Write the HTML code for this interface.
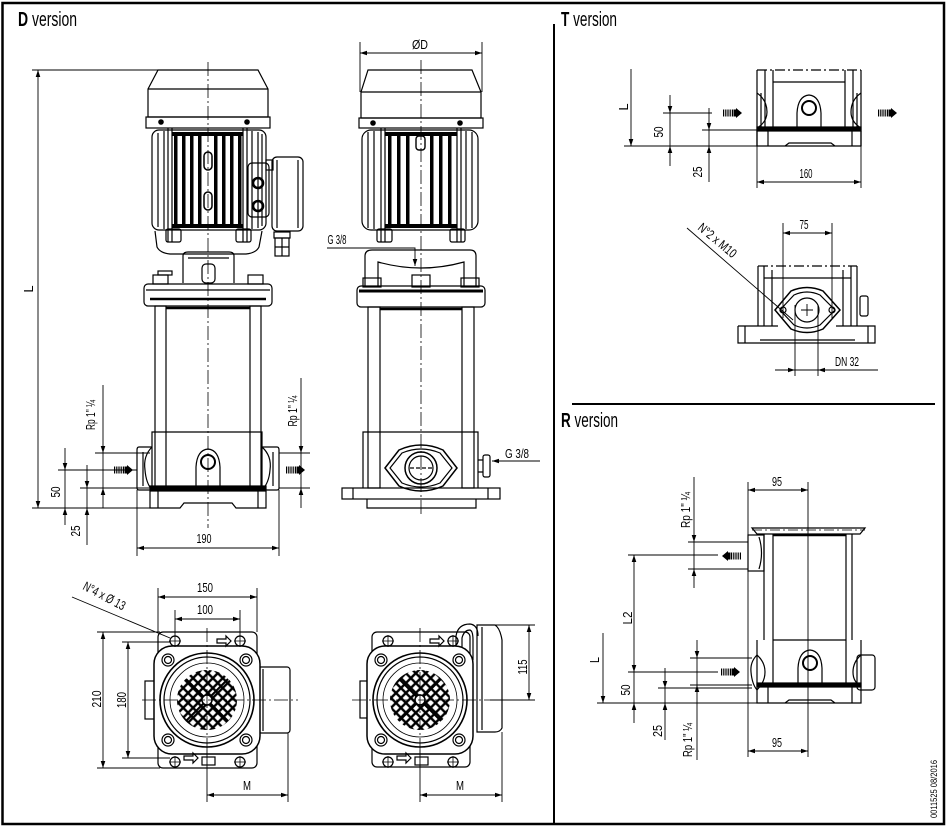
<!DOCTYPE html>
<html><head><meta charset="utf-8"><style>
html,body{margin:0;padding:0;background:#fff;}
svg{display:block}
text{font-family:"Liberation Sans","DejaVu Sans",sans-serif;fill:#000;stroke:none}
.d{font-size:13px}
.h{font-size:20px}
</style></head><body>
<svg width="947" height="827" viewBox="0 0 947 827" xmlns="http://www.w3.org/2000/svg">
<defs>
<path id="ar" d="M0,0L-7,-2.3L-7,2.3Z" fill="#000" stroke="none"/>
<g id="fa" fill="#000" stroke="none">
<rect x="0" y="-3.5" width="1.2" height="7"/><rect x="2.2" y="-3.5" width="1.2" height="7"/><rect x="4.4" y="-3.5" width="1.2" height="7"/><rect x="6.6" y="-3.5" width="1.2" height="7"/><rect x="8.8" y="-3.5" width="1.2" height="7"/>
<rect x="10.5" y="-3.5" width="2.6" height="7"/><path d="M13,-5L19,0L13,5Z"/>
</g>
<pattern id="grid" width="7" height="7" patternUnits="userSpaceOnUse" patternTransform="rotate(45)">
<rect width="7" height="7" fill="#000"/><rect x="1.2" y="1.2" width="4.6" height="4.6" fill="#fff"/>
</pattern>
</defs>

<!-- frame -->
<g fill="none" stroke="#000">
<rect x="2.5" y="3" width="941.5" height="821" stroke-width="2.5"/>
<line x1="554" y1="24" x2="554" y2="824" stroke-width="2"/>
<line x1="572" y1="404" x2="935" y2="404" stroke-width="2"/>
</g>
<text class="h" x="18" y="26" textLength="59" lengthAdjust="spacingAndGlyphs"><tspan font-weight="bold">D</tspan> version</text>
<text class="h" x="561" y="26" textLength="56" lengthAdjust="spacingAndGlyphs"><tspan font-weight="bold">T</tspan> version</text>
<text class="h" x="561" y="427" textLength="57" lengthAdjust="spacingAndGlyphs"><tspan font-weight="bold">R</tspan> version</text>

<!-- ================= D FRONT VIEW ================= -->
<g fill="none" stroke="#000" stroke-width="1.2">
<path d="M158,70H258L268,89V117H148V89Z"/>
<line x1="148" y1="89" x2="268" y2="89"/>
<rect x="146" y="117" width="124" height="11"/>
<circle cx="161" cy="122" r="2.2" fill="#000"/><circle cx="247" cy="122" r="2.2" fill="#000"/>
<rect x="152" y="130" width="114" height="100" rx="7"/>
<path d="M158,133V227M164,131V229M252,131V229M258,132V228M262,134V226"/>
<path d="M168,128V242M172,128V242M243,128V242M247,128V242"/>
<g fill="#000" stroke="none">
<rect x="172" y="132" width="71" height="4"/><rect x="172" y="224" width="71" height="4"/>
<rect x="174" y="134" width="3.5" height="92"/><rect x="182" y="134" width="3.5" height="92"/>
<rect x="190" y="134" width="3.5" height="92"/><rect x="198" y="134" width="3.5" height="92"/>
<rect x="214" y="134" width="3.5" height="92"/><rect x="222" y="134" width="3.5" height="92"/>
<rect x="230" y="134" width="3.5" height="92"/><rect x="238" y="134" width="3.5" height="92"/>
</g>
<rect x="204" y="152" width="8" height="18" rx="4" stroke-width="1.5"/>
<rect x="204" y="192" width="8" height="18" rx="4" stroke-width="1.5"/>
<rect x="248" y="163" width="21" height="54" rx="4"/>
<circle cx="258" cy="183" r="5" stroke-width="2.6"/><circle cx="258" cy="206" r="5" stroke-width="2.6"/>
<rect x="266" y="160" width="7" height="10"/>
<rect x="272" y="157" width="31" height="74" rx="5"/>
<path d="M277,160V228M298,160V228"/>
<rect x="274" y="232" width="16" height="6"/><rect x="275" y="238" width="14" height="18"/>
<path d="M282,238V256M275,247H289"/>
<rect x="166" y="229" width="15" height="13" rx="2"/><rect x="236" y="229" width="15" height="13" rx="2"/>
<path d="M155,231L157,247Q160,253 170,254H246Q256,253 259,247L262,231"/>
<path d="M183,283V256Q183,252 188,252H229Q234,252 234,256V283M188,258H229"/>
<rect x="202" y="264" width="13" height="19" rx="4"/>
<rect x="153" y="275" width="15" height="9"/><rect x="248" y="275" width="15" height="9"/>
<rect x="158" y="271" width="14" height="4"/>
<rect x="144" y="284" width="128" height="22" rx="4"/>
<line x1="146" y1="290" x2="270" y2="290"/>
<line x1="150" y1="299" x2="266" y2="299" stroke-width="2.5"/>
<rect x="155" y="306" width="11" height="183"/><rect x="250" y="306" width="11" height="183"/>
<line x1="166" y1="308" x2="250" y2="308" stroke-width="2.5"/>
<path d="M152,490V432H166M250,432H262V490"/>
<line x1="166" y1="432" x2="250" y2="432"/>
<path d="M152,447H139Q137,447 137,450V488Q137,490 139,490H152"/>
<path d="M152,447Q143,456 145,470Q146,483 152,490M143,452V486"/>
<path d="M262,447H277Q279,447 279,450V488Q279,490 277,490H262"/>
<path d="M262,447Q272,456 270,470Q269,483 262,490M273,452V486"/>
<rect x="150" y="486" width="116" height="5" fill="#000"/>
<path d="M150,491V508H180L184,503H232L236,508H266V491"/>
<path d="M158,491V508M258,491V508"/>
<circle cx="208" cy="462" r="7" stroke-width="2"/>
<path d="M196,487V467Q197,450 208,449Q219,450 220,467V487"/>
</g>
<line x1="208" y1="62" x2="208" y2="528" stroke="#000" stroke-width="0.8" stroke-dasharray="14,3,2,3"/>
<g transform="translate(114,470)"><use href="#fa"/></g>
<g transform="translate(286,470)"><use href="#fa"/></g>

<!-- D dims -->
<g fill="none" stroke="#000" stroke-width="0.9">
<path d="M32,70H158M32,508H150M38,70V508"/>
<path d="M65,448V525M58,470H137"/>
<path d="M87,465V545M80,488H150"/>
<path d="M103,385V508M95,453H150"/>
<path d="M301,378V508M279,453H310M279,488H310"/>
<path d="M137,490V556M279,490V556M137,548H279"/>
<path d="M360,42V92M482,42V92M360,53H482"/>
<path d="M327,248H415V266"/>
<path d="M492,461H540"/>
</g>
<use href="#ar" transform="translate(38,70) rotate(-90)"/>
<use href="#ar" transform="translate(38,508) rotate(90)"/>
<use href="#ar" transform="translate(65,470) rotate(90)"/>
<use href="#ar" transform="translate(65,508) rotate(-90)"/>
<use href="#ar" transform="translate(87,488) rotate(90)"/>
<use href="#ar" transform="translate(87,508) rotate(-90)"/>
<use href="#ar" transform="translate(103,453) rotate(90)"/>
<use href="#ar" transform="translate(103,488) rotate(-90)"/>
<use href="#ar" transform="translate(301,453) rotate(90)"/>
<use href="#ar" transform="translate(301,488) rotate(-90)"/>
<use href="#ar" transform="translate(137,548) rotate(180)"/>
<use href="#ar" transform="translate(279,548)"/>
<use href="#ar" transform="translate(360,53) rotate(180)"/>
<use href="#ar" transform="translate(482,53)"/>
<use href="#ar" transform="translate(415,266) rotate(90)"/>
<use href="#ar" transform="translate(492,461) rotate(180)"/>
<text class="d" transform="translate(33,289) rotate(-90)" text-anchor="middle" textLength="7" lengthAdjust="spacingAndGlyphs">L</text>
<text class="d" transform="translate(60,492) rotate(-90)" text-anchor="middle" textLength="11" lengthAdjust="spacingAndGlyphs">50</text>
<text class="d" transform="translate(80,531) rotate(-90)" text-anchor="middle" textLength="11" lengthAdjust="spacingAndGlyphs">25</text>
<text class="d" transform="translate(95,415) rotate(-90)" text-anchor="middle" textLength="30" lengthAdjust="spacingAndGlyphs">Rp 1" ¼</text>
<text class="d" transform="translate(297,411) rotate(-90)" text-anchor="middle" textLength="31" lengthAdjust="spacingAndGlyphs">Rp 1" ¼</text>
<text class="d" x="204" y="543" text-anchor="middle" textLength="15" lengthAdjust="spacingAndGlyphs">190</text>
<text class="d" x="420" y="49" text-anchor="middle" textLength="16" lengthAdjust="spacingAndGlyphs">ØD</text>
<text class="d" x="337" y="244" text-anchor="middle" textLength="19" lengthAdjust="spacingAndGlyphs">G 3/8</text>
<text class="d" x="517" y="458" text-anchor="middle" textLength="24" lengthAdjust="spacingAndGlyphs">G 3/8</text>

<!-- ================= D SIDE VIEW ================= -->
<g fill="none" stroke="#000" stroke-width="1.2">
<path d="M368,70H472L481,92V118H361V92Z"/>
<line x1="361" y1="92" x2="481" y2="92"/>
<rect x="359" y="118" width="124" height="10"/>
<circle cx="373" cy="123" r="2.2" fill="#000"/><circle cx="460" cy="123" r="2.2" fill="#000"/>
<rect x="362" y="130" width="116" height="100" rx="9"/>
<path d="M368,132V228M374,131V229M466,131V229M472,132V228"/>
<path d="M381,128V242M385,128V242M457,128V242M461,128V242"/>
<g fill="#000" stroke="none">
<rect x="385" y="132" width="72" height="4"/><rect x="385" y="224" width="72" height="4"/>
<rect x="388" y="134" width="3.5" height="92"/><rect x="397" y="134" width="3.5" height="92"/>
<rect x="406" y="134" width="3.5" height="92"/><rect x="430" y="134" width="3.5" height="92"/>
<rect x="439" y="134" width="3.5" height="92"/><rect x="448" y="134" width="3.5" height="92"/>
</g>
<rect x="416" y="136" width="9" height="14" rx="3" stroke-width="1.4"/>
<rect x="377" y="229" width="15" height="13" rx="2"/><rect x="450" y="229" width="15" height="13" rx="2"/>
<path d="M365,286V256Q365,250 372,250H470Q476,250 476,256V286"/>
<path d="M378,286V262Q421,274 464,262V286"/>
<rect x="412" y="275" width="18" height="12"/>
<rect x="363" y="278" width="18" height="9"/><rect x="461" y="278" width="18" height="9"/>
<rect x="357" y="286" width="128" height="21" rx="4"/>
<line x1="359" y1="291" x2="483" y2="291" stroke-width="3"/>
<rect x="368" y="307" width="12" height="181"/><rect x="462" y="307" width="12" height="181"/>
<line x1="380" y1="309" x2="462" y2="309" stroke-width="2.5"/>
<path d="M363,488V432H478V488"/>
<path d="M385,468L399,450Q421,440 443,450L457,468L443,486Q421,496 399,486Z" fill="#fff" stroke-width="1.5"/>
<path d="M390,468L402,453Q421,445 440,453L452,468L440,483Q421,491 402,483Z"/>
<circle cx="421" cy="468" r="16" stroke-width="1.5"/><circle cx="421" cy="468" r="12"/>
<line x1="410" y1="468" x2="432" y2="468" stroke-dasharray="4,2"/>
<rect x="342" y="488" width="158" height="11"/>
<path d="M353,488V499M488,488V499M367,499V508H476V499"/>
<rect x="483" y="455" width="7" height="22" rx="2"/>
<path d="M478,460H483M478,472H483"/>
</g>
<line x1="421" y1="60" x2="421" y2="515" stroke="#000" stroke-width="0.8" stroke-dasharray="14,3,2,3"/>

<!-- ================= TOP VIEW LEFT ================= -->
<g fill="none" stroke="#000" stroke-width="1.2">
<rect x="158" y="632" width="99" height="136" rx="5"/>
<rect x="145" y="681" width="13" height="38"/>
<rect x="258" y="667" width="32" height="66" rx="3"/>
<path d="M263,669V731"/>
<rect x="154" y="646" width="106" height="108" rx="18" fill="#fff" stroke-width="1.5"/>
<circle cx="207" cy="700" r="47" stroke-width="1.6"/>
<circle cx="207" cy="700" r="43"/>
<circle cx="207" cy="700" r="37" stroke-width="0.8"/>
<circle cx="207" cy="700" r="30" fill="url(#grid)" stroke="none"/>
<path d="M186,679L228,721M228,679L186,721" stroke-width="2"/>
<circle cx="207" cy="700" r="5" fill="#fff" stroke-width="1.5"/>
<circle cx="168" cy="660" r="6"/><circle cx="168" cy="660" r="3.5"/>
<circle cx="246" cy="660" r="6"/><circle cx="246" cy="660" r="3.5"/>
<circle cx="168" cy="740" r="6"/><circle cx="168" cy="740" r="3.5"/>
<circle cx="246" cy="740" r="6"/><circle cx="246" cy="740" r="3.5"/>
<circle cx="175" cy="641" r="5"/><circle cx="240" cy="641" r="5"/>
<circle cx="175" cy="762" r="5"/><circle cx="240" cy="762" r="5"/>
<path d="M169,641H181M175,635V647M234,641H246M240,635V647M169,762H181M175,756V768M234,762H246M240,756V768" stroke-width="0.8"/>
<path d="M217,639H226V636L231,641L226,646V643H217Z"/>
<path d="M184,756H193V753L198,758L193,763V760H184Z"/>
<rect x="202" y="757" width="13" height="8"/>
</g>
<g fill="none" stroke="#000" stroke-width="0.8" stroke-dasharray="14,3,2,3">
<line x1="142" y1="700" x2="298" y2="700"/>
<line x1="207" y1="628" x2="207" y2="750"/>
</g>
<g fill="none" stroke="#000" stroke-width="0.9">
<path d="M207,750V802M288,733V802M207,795H288"/>
<path d="M158,588V632M257,588V632M158,597H257"/>
<path d="M175,610V636M240,610V636M175,619H240"/>
<path d="M97,632H160M97,768H160M103,632V768"/>
<path d="M122,642H170M122,758H170M128,642V758"/>
<path d="M72,597L170,638"/>
</g>
<use href="#ar" transform="translate(207,795) rotate(180)"/>
<use href="#ar" transform="translate(288,795)"/>
<use href="#ar" transform="translate(158,597) rotate(180)"/>
<use href="#ar" transform="translate(257,597)"/>
<use href="#ar" transform="translate(175,619) rotate(180)"/>
<use href="#ar" transform="translate(240,619)"/>
<use href="#ar" transform="translate(103,632) rotate(-90)"/>
<use href="#ar" transform="translate(103,768) rotate(90)"/>
<use href="#ar" transform="translate(128,642) rotate(-90)"/>
<use href="#ar" transform="translate(128,758) rotate(90)"/>
<text class="d" x="205" y="592" text-anchor="middle" textLength="16" lengthAdjust="spacingAndGlyphs">150</text>
<text class="d" x="205" y="614" text-anchor="middle" textLength="16" lengthAdjust="spacingAndGlyphs">100</text>
<text class="d" x="247" y="790" text-anchor="middle" textLength="8" lengthAdjust="spacingAndGlyphs">M</text>
<text class="d" transform="translate(101,699) rotate(-90)" text-anchor="middle" textLength="17" lengthAdjust="spacingAndGlyphs">210</text>
<text class="d" transform="translate(126,700) rotate(-90)" text-anchor="middle" textLength="16" lengthAdjust="spacingAndGlyphs">180</text>
<text class="d" transform="translate(82,589) rotate(28)" textLength="46" lengthAdjust="spacingAndGlyphs" font-size="12">N°4 x Ø 13</text>

<!-- ================= TOP VIEW MIDDLE ================= -->
<g fill="none" stroke="#000" stroke-width="1.2">
<rect x="372" y="632" width="98" height="135" rx="5"/>
<rect x="360" y="681" width="12" height="37"/>
<path d="M477,625H495Q500,628 502,640V728Q500,732 495,732H477Z"/>
<path d="M482,627V730"/>
<path d="M456,650V636Q458,624 470,624Q478,625 478,636"/>
<path d="M462,652V638Q464,630 470,630Q473,631 473,640V660"/>
<rect x="367" y="646" width="106" height="108" rx="18" fill="#fff" stroke-width="1.5"/>
<circle cx="420" cy="700" r="47" stroke-width="1.6"/>
<circle cx="420" cy="700" r="43"/>
<circle cx="420" cy="700" r="37" stroke-width="0.8"/>
<circle cx="420" cy="700" r="30" fill="url(#grid)" stroke="none"/>
<path d="M399,679L441,721M441,679L399,721" stroke-width="2"/>
<circle cx="420" cy="700" r="5" fill="#fff" stroke-width="1.5"/>
<circle cx="381" cy="660" r="6"/><circle cx="381" cy="660" r="3.5"/>
<circle cx="459" cy="660" r="6"/><circle cx="459" cy="660" r="3.5"/>
<circle cx="381" cy="740" r="6"/><circle cx="381" cy="740" r="3.5"/>
<circle cx="459" cy="740" r="6"/><circle cx="459" cy="740" r="3.5"/>
<circle cx="388" cy="641" r="5"/><circle cx="453" cy="641" r="5"/>
<circle cx="388" cy="762" r="5"/><circle cx="453" cy="762" r="5"/>
<path d="M382,641H394M388,635V647M447,641H459M453,635V647M382,762H394M388,756V768M447,762H459M453,756V768" stroke-width="0.8"/>
<path d="M430,639H439V636L444,641L439,646V643H430Z"/>
<path d="M397,756H406V753L411,758L406,763V760H397Z"/>
<rect x="415" y="757" width="13" height="8"/>
</g>
<g fill="none" stroke="#000" stroke-width="0.8" stroke-dasharray="14,3,2,3">
<line x1="352" y1="700" x2="490" y2="700"/>
<line x1="420" y1="628" x2="420" y2="750"/>
</g>
<g fill="none" stroke="#000" stroke-width="0.9">
<path d="M420,750V802M502,732V802M420,795H502"/>
<path d="M490,700H535M490,625H535M529,625V700"/>
</g>
<use href="#ar" transform="translate(420,795) rotate(180)"/>
<use href="#ar" transform="translate(502,795)"/>
<use href="#ar" transform="translate(529,625) rotate(-90)"/>
<use href="#ar" transform="translate(529,700) rotate(90)"/>
<text class="d" x="460" y="790" text-anchor="middle" textLength="8" lengthAdjust="spacingAndGlyphs">M</text>
<text class="d" transform="translate(527,667) rotate(-90)" text-anchor="middle" textLength="15" lengthAdjust="spacingAndGlyphs">115</text>

<!-- ================= T VERSION ================= -->
<g fill="none" stroke="#000" stroke-width="1.2">
<path d="M757,70V146M861,70V146M761,93V128M857,93V128"/>
<line x1="757" y1="70" x2="861" y2="70" stroke-dasharray="10,3,2,3"/>
<path d="M765,70V128M773,70V128M845,70V128M853,70V128"/>
<line x1="773" y1="82" x2="845" y2="82"/>
<path d="M757,93Q767,100 767,112Q767,122 757,128M861,93Q851,100 851,112Q851,122 861,128"/>
<rect x="757" y="127" width="104" height="4" fill="#000"/>
<path d="M757,131V146H861V131M768,131V146M852,131V146M785,146L789,143H831L835,146"/>
<path d="M797,128V113Q798,96 809,95Q820,96 821,113V128"/>
<circle cx="809" cy="108" r="7" stroke-width="2"/>
</g>
<g transform="translate(723,113)"><use href="#fa"/></g>
<g transform="translate(878,113)"><use href="#fa"/></g>
<g fill="none" stroke="#000" stroke-width="0.9">
<path d="M631,69V146M624,146H757"/>
<path d="M670,95V166M663,113H712"/>
<path d="M709,108V182M702,130H757"/>
<path d="M757,146V188M861,146V188M757,182H861"/>
</g>
<use href="#ar" transform="translate(631,146) rotate(90)"/>
<use href="#ar" transform="translate(670,113) rotate(90)"/>
<use href="#ar" transform="translate(670,146) rotate(-90)"/>
<use href="#ar" transform="translate(709,130) rotate(90)"/>
<use href="#ar" transform="translate(709,146) rotate(-90)"/>
<use href="#ar" transform="translate(757,182) rotate(180)"/>
<use href="#ar" transform="translate(861,182)"/>
<text class="d" transform="translate(628,107) rotate(-90)" text-anchor="middle" textLength="7" lengthAdjust="spacingAndGlyphs">L</text>
<text class="d" transform="translate(663,132) rotate(-90)" text-anchor="middle" textLength="11" lengthAdjust="spacingAndGlyphs">50</text>
<text class="d" transform="translate(702,172) rotate(-90)" text-anchor="middle" textLength="11" lengthAdjust="spacingAndGlyphs">25</text>
<text class="d" x="806" y="178" text-anchor="middle" textLength="13" lengthAdjust="spacingAndGlyphs">160</text>

<!-- T lower view -->
<g fill="none" stroke="#000" stroke-width="1.2">
<line x1="758" y1="266" x2="857" y2="266" stroke-dasharray="10,3,2,3"/>
<path d="M758,266V326M764,266V326M851,266V326M857,266V326M764,278H851M772,270V326M843,270V326"/>
<rect x="860" y="296" width="8" height="20" rx="2"/>
<path d="M738,326H778M836,326H875V343H738V326M745,326V343M868,326V343M760,340H855"/>
<path d="M775,310L791,291Q807,284 823,291L840,310L823,329Q807,336 791,329Z" fill="#fff" stroke-width="1.5"/>
<path d="M780,310L794,295Q807,289 820,295L835,310L820,325Q807,331 794,325Z"/>
<circle cx="807" cy="310" r="12"/>
<path d="M801,310H813M807,304V316" stroke-width="0.9"/>
<circle cx="783" cy="310" r="3"/><circle cx="832" cy="310" r="3"/>
</g>
<g fill="none" stroke="#000" stroke-width="0.9">
<path d="M783,223V318M832,223V318M783,233H832"/>
<path d="M775,370H878M795,305V376M818,305V376"/>
<path d="M687,228L793,320"/>
</g>
<use href="#ar" transform="translate(783,233) rotate(180)"/>
<use href="#ar" transform="translate(832,233)"/>
<use href="#ar" transform="translate(795,370)"/>
<use href="#ar" transform="translate(818,370) rotate(180)"/>
<text class="d" x="804" y="229" text-anchor="middle" textLength="9" lengthAdjust="spacingAndGlyphs">75</text>
<text class="d" x="847" y="366" text-anchor="middle" textLength="24" lengthAdjust="spacingAndGlyphs">DN 32</text>
<text class="d" transform="translate(697,229) rotate(40)" textLength="46" lengthAdjust="spacingAndGlyphs" font-size="12">N°2 x M10</text>

<!-- ================= R VERSION ================= -->
<g fill="none" stroke="#000" stroke-width="1.2">
<path d="M752,528H865L860,534H757Z"/>
<line x1="752" y1="530" x2="865" y2="530" stroke-dasharray="10,3,2,3" stroke-width="0.8"/>
<line x1="773" y1="535" x2="846" y2="535" stroke-width="2.5"/>
<path d="M764,534V640M852,534V640M773,534V683M846,534V683"/>
<rect x="748" y="535" width="16" height="36"/>
<path d="M759,537Q764,553 759,569"/>
<line x1="773" y1="640" x2="846" y2="640"/>
<path d="M757,640V687M861,640V687"/>
<path d="M757,655Q765,662 765,672Q765,682 757,690M861,655Q853,662 853,672Q853,682 861,686"/>
<path d="M757,655Q750,662 751,672Q752,684 757,690"/>
<rect x="857" y="655" width="18" height="35" rx="3"/>
<rect x="757" y="683" width="104" height="4" fill="#000"/>
<path d="M757,687V703H861V687M768,687V703M852,687V703M785,703L789,700H831L835,703"/>
<path d="M798,683V668Q799,651 810,650Q821,651 822,668V683"/>
<circle cx="810" cy="663" r="7" stroke-width="2"/>
</g>
<g transform="translate(741,556) rotate(180)"><use href="#fa"/></g>
<g transform="translate(721,672)"><use href="#fa"/></g>
<g fill="none" stroke="#000" stroke-width="0.9">
<path d="M748,482V757M808,482V757M748,490H808M748,751H808"/>
<path d="M694,477V588M688,542H748M688,569H748"/>
<path d="M634,555V723M628,555H718M628,672H718"/>
<path d="M603,633V703M597,703H757"/>
<path d="M665,668V740M658,688H752"/>
<path d="M697,640V760M690,658H752M690,685H752"/>
</g>
<use href="#ar" transform="translate(748,490) rotate(180)"/>
<use href="#ar" transform="translate(808,490)"/>
<use href="#ar" transform="translate(748,751) rotate(180)"/>
<use href="#ar" transform="translate(808,751)"/>
<use href="#ar" transform="translate(694,542) rotate(90)"/>
<use href="#ar" transform="translate(694,569) rotate(-90)"/>
<use href="#ar" transform="translate(634,555) rotate(-90)"/>
<use href="#ar" transform="translate(634,672) rotate(90)"/>
<use href="#ar" transform="translate(634,703) rotate(-90)"/>
<use href="#ar" transform="translate(603,703) rotate(90)"/>
<use href="#ar" transform="translate(665,688) rotate(90)"/>
<use href="#ar" transform="translate(665,703) rotate(-90)"/>
<use href="#ar" transform="translate(697,658) rotate(90)"/>
<use href="#ar" transform="translate(697,685) rotate(-90)"/>
<text class="d" x="777" y="486" text-anchor="middle" textLength="10" lengthAdjust="spacingAndGlyphs">95</text>
<text class="d" x="777" y="747" text-anchor="middle" textLength="10" lengthAdjust="spacingAndGlyphs">95</text>
<text class="d" transform="translate(690,510) rotate(-90)" text-anchor="middle" textLength="36" lengthAdjust="spacingAndGlyphs">Rp 1" ¼</text>
<text class="d" transform="translate(632,618) rotate(-90)" text-anchor="middle" textLength="13" lengthAdjust="spacingAndGlyphs">L2</text>
<text class="d" transform="translate(599,660) rotate(-90)" text-anchor="middle" textLength="6" lengthAdjust="spacingAndGlyphs">L</text>
<text class="d" transform="translate(630,690) rotate(-90)" text-anchor="middle" textLength="11" lengthAdjust="spacingAndGlyphs">50</text>
<text class="d" transform="translate(662,731) rotate(-90)" text-anchor="middle" textLength="12" lengthAdjust="spacingAndGlyphs">25</text>
<text class="d" transform="translate(692,740) rotate(-90)" text-anchor="middle" textLength="34" lengthAdjust="spacingAndGlyphs">Rp 1" ¼</text>
<text transform="translate(937,789) rotate(-90)" text-anchor="middle" font-size="9" textLength="58" lengthAdjust="spacingAndGlyphs">0011525  08/2016</text>
</svg>
</body></html>
